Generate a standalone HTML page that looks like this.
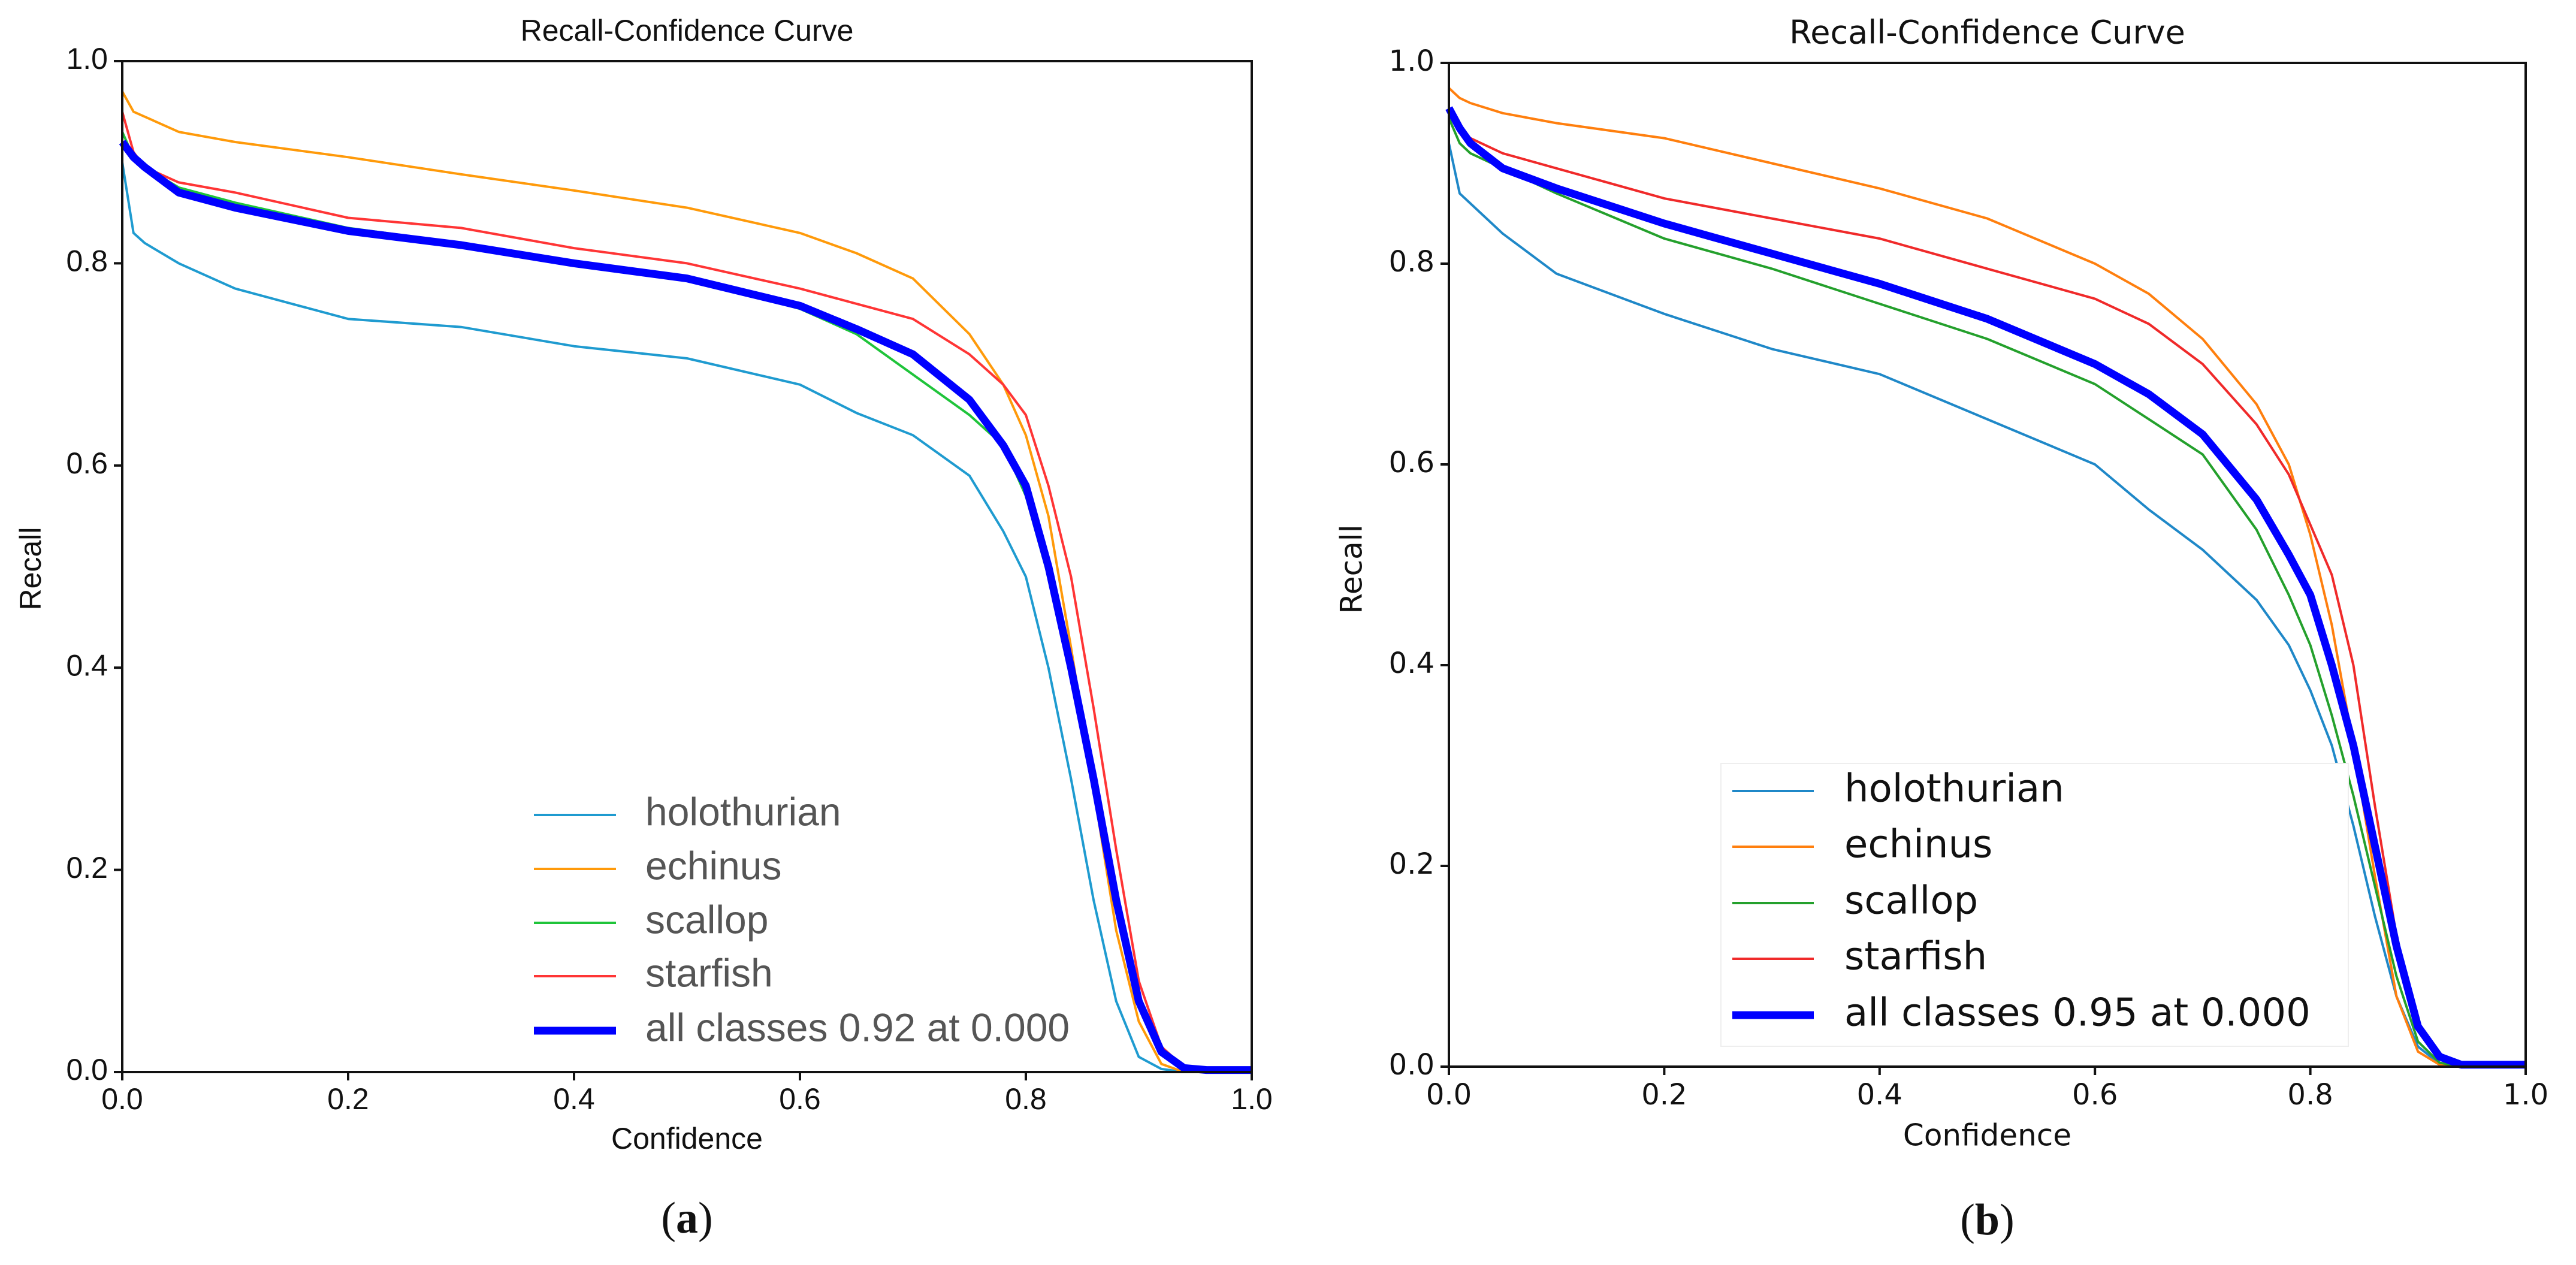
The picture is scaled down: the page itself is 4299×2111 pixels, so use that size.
<!DOCTYPE html>
<html><head><meta charset="utf-8">
<style>
html,body{margin:0;padding:0;background:#fff;}
svg{display:block;}
</style></head>
<body>
<svg id="fig" width="4299" height="2111" viewBox="0 0 4299 2111" xmlns="http://www.w3.org/2000/svg">
<rect width="4299" height="2111" fill="#fff"/>
<g id="chartA"></g>
<g id="chartB"></g>
</svg>
<script>
// shared x sample points (confidence)
const confA = [0,0.01,0.02,0.05,0.1,0.2,0.3,0.4,0.5,0.6,0.65,0.7,0.75,0.78,0.8,0.82,0.84,0.86,0.88,0.9,0.92,0.94,0.96,1.0];
const holoA = [0.90,0.83,0.82,0.80,0.775,0.745,0.737,0.718,0.706,0.68,0.652,0.63,0.59,0.535,0.49,0.40,0.29,0.17,0.07,0.015,0.003,0,0,0];
const echiA = [0.97,0.95,0.945,0.93,0.92,0.905,0.888,0.872,0.855,0.83,0.81,0.785,0.73,0.68,0.63,0.55,0.42,0.28,0.14,0.05,0.008,0,0,0];
const scalA = [0.93,0.905,0.895,0.875,0.86,0.835,0.82,0.80,0.785,0.755,0.73,0.69,0.65,0.62,0.57,0.49,0.39,0.29,0.17,0.07,0.02,0.004,0.001,0];
const starA = [0.95,0.91,0.895,0.88,0.87,0.845,0.835,0.815,0.80,0.775,0.76,0.745,0.71,0.68,0.65,0.58,0.49,0.36,0.22,0.09,0.025,0.005,0.001,0];
const allA  = [0.92,0.905,0.895,0.87,0.855,0.832,0.818,0.80,0.785,0.758,0.735,0.71,0.665,0.62,0.58,0.50,0.40,0.29,0.17,0.07,0.02,0.004,0.002,0.002];

const confB = [0,0.01,0.02,0.05,0.1,0.2,0.3,0.4,0.5,0.6,0.65,0.7,0.75,0.78,0.8,0.82,0.84,0.86,0.88,0.9,0.92,0.94,0.96,1.0];
const holoB = [0.92,0.87,0.86,0.83,0.79,0.75,0.715,0.69,0.645,0.60,0.555,0.515,0.465,0.42,0.375,0.32,0.24,0.15,0.07,0.02,0.003,0,0,0];
const echiB = [0.975,0.965,0.96,0.95,0.94,0.925,0.90,0.875,0.845,0.80,0.77,0.725,0.66,0.60,0.53,0.44,0.32,0.19,0.07,0.015,0.002,0,0,0];
const scalB = [0.945,0.92,0.91,0.895,0.87,0.825,0.795,0.76,0.725,0.68,0.645,0.61,0.535,0.47,0.42,0.35,0.27,0.18,0.09,0.025,0.004,0,0,0];
const starB = [0.95,0.93,0.925,0.91,0.895,0.865,0.845,0.825,0.795,0.765,0.74,0.70,0.64,0.59,0.54,0.49,0.40,0.26,0.13,0.04,0.008,0,0,0];
const allB  = [0.955,0.935,0.92,0.895,0.875,0.84,0.81,0.78,0.745,0.70,0.67,0.63,0.565,0.51,0.47,0.40,0.32,0.22,0.12,0.04,0.01,0.002,0.002,0.002];

const tickVals = [0,0.2,0.4,0.6,0.8,1.0];
const tickLabels = ["0.0","0.2","0.4","0.6","0.8","1.0"];
const seriesNames = ["holothurian","echinus","scallop","starfish"];
const allLabelA = "all classes 0.92 at 0.000";
const allLabelB = "all classes 0.95 at 0.000";

const NS = "http://www.w3.org/2000/svg";
function mk(parent, tag, attrs, text){
  const e = document.createElementNS(NS, tag);
  for (const k in attrs) e.setAttribute(k, attrs[k]);
  if (text !== undefined) e.textContent = text;
  parent.appendChild(e);
  return e;
}

function drawChart(g, cfg){
  const sx = v => cfg.x0 + v*(cfg.x1-cfg.x0);
  const sy = v => cfg.y1 - v*(cfg.y1-cfg.y0);
  // title
  const t = mk(g,'text',{x:(cfg.x0+cfg.x1)/2, y:cfg.titleY, 'font-size':cfg.titleSize, 'text-anchor':'middle', 'dominant-baseline':'middle', 'font-family':cfg.font, fill:'#111'}, 'Recall-Confidence Curve');
  
  
  // series
  const cols = cfg.colors;
  const sets = cfg.series;
  sets.forEach((ys,i)=>{
    const d = cfg.conf.map((c,j)=>(j?'L':'M')+sx(c).toFixed(1)+' '+sy(ys[j]).toFixed(1)).join(' ');
    const p = mk(g,'path',{d:d, fill:'none', stroke:cols[i], 'stroke-width': i===4?13:4, 'stroke-linejoin':'round'});
    
    
  });
  // axes frame
  const fr = mk(g,'rect',{x:cfg.x0, y:cfg.y0, width:cfg.x1-cfg.x0, height:cfg.y1-cfg.y0, fill:'none', stroke:'#111', 'stroke-width':4});
  
  
  // ticks
  tickVals.forEach((v,i)=>{
    const xt = mk(g,'line',{x1:sx(v), x2:sx(v), y1:cfg.y1, y2:cfg.y1+14, stroke:'#111','stroke-width':4});
    
    
    const xl = mk(g,'text',{x:sx(v), y:cfg.xTickY, 'font-size':cfg.tickSize, 'text-anchor':'middle','dominant-baseline':'middle','font-family':cfg.font, fill:'#111'}, tickLabels[i]);
    
    
    const yt = mk(g,'line',{x1:cfg.x0-14, x2:cfg.x0, y1:sy(v), y2:sy(v), stroke:'#111','stroke-width':4});
    
    
    const yl = mk(g,'text',{x:cfg.x0-24, y:sy(v), 'font-size':cfg.tickSize, 'text-anchor':'end','dominant-baseline':'middle','font-family':cfg.font, fill:'#111'}, tickLabels[i]);
    
    
  });
  const xa = mk(g,'text',{x:(cfg.x0+cfg.x1)/2, y:cfg.xLabelY, 'font-size':cfg.labelSize,'text-anchor':'middle','dominant-baseline':'middle','font-family':cfg.font, fill:'#111'}, 'Confidence');
  
  
  const ya = mk(g,'text',{x:0, y:0, transform:`translate(${cfg.yLabelX},${cfg.yLabelY}) rotate(-90)`, 'font-size':cfg.labelSize,'text-anchor':'middle','dominant-baseline':'middle','font-family':cfg.font, fill:'#111'}, 'Recall');
  
  
  // legend
  const lg = mk(g,'g',{});
  
  
  if (cfg.legendBox){
    const b = mk(lg,'rect',{x:cfg.legendBox[0], y:cfg.legendBox[1], width:cfg.legendBox[2], height:cfg.legendBox[3], fill:'#fff', stroke:'#eee','stroke-width':2});
    
    
  }
  const names = seriesNames.concat([cfg.allLabel]);
  names.forEach((n,i)=>{
    const y = cfg.legRows[i];
    const ln = mk(lg,'line',{x1:cfg.legLine[0], x2:cfg.legLine[1], y1:y, y2:y, stroke:cols[i], 'stroke-width': i===4?13:4});
    
    
    const tx = mk(lg,'text',{x:cfg.legText, y:y, 'font-size':cfg.legSize,'dominant-baseline':'middle','font-family':cfg.font, fill:cfg.legColor}, n);
    
    
  });
  const cap = mk(g,'text',{x:(cfg.x0+cfg.x1)/2, y:cfg.capY, 'font-size':74,'text-anchor':'middle','dominant-baseline':'middle','font-family':'"Liberation Serif", serif', fill:'#111'});
  
  
  mk(cap,'tspan',{},'(');
  mk(cap,'tspan',{'font-weight':'bold'},cfg.cap);
  mk(cap,'tspan',{},')');
}

drawChart(document.getElementById('chartA'), {
  x0:204, x1:2089, y0:102, y1:1789,
  conf: confA, series:[holoA,echiA,scalA,starA,allA],
  colors:['#1f9bd0','#ff9a0a','#1fc43a','#ff3535','#0000ff'],
  font:'"Liberation Sans", sans-serif',
  titleY:55, titleSize:50, tickSize:50, labelSize:50,
  xTickY:1838, xLabelY:1904, yLabelX:55, yLabelY:949,
  legRows:[1360,1450,1540,1629,1720], legLine:[891,1028], legText:1077, legSize:66, legColor:'#555',
  allLabel: allLabelA, cap:'a', capY:2040
});
drawChart(document.getElementById('chartB'), {
  x0:2418, x1:4215, y0:105, y1:1780,
  conf: confB, series:[holoB,echiB,scalB,starB,allB],
  colors:['#1f88c8','#ff7f0e','#24a02c','#f02a2a','#0000ff'],
  font:'"DejaVu Sans", sans-serif',
  titleY:58, titleSize:54, tickSize:48, labelSize:50,
  xTickY:1830, xLabelY:1898, yLabelX:2259, yLabelY:950,
  legendBox:[2872,1274,1047,472],
  legRows:[1320,1413,1507,1600,1694], legLine:[2891,3027], legText:3078, legSize:64, legColor:'#111',
  allLabel: allLabelB, cap:'b', capY:2043
});
</script>
</body></html>
